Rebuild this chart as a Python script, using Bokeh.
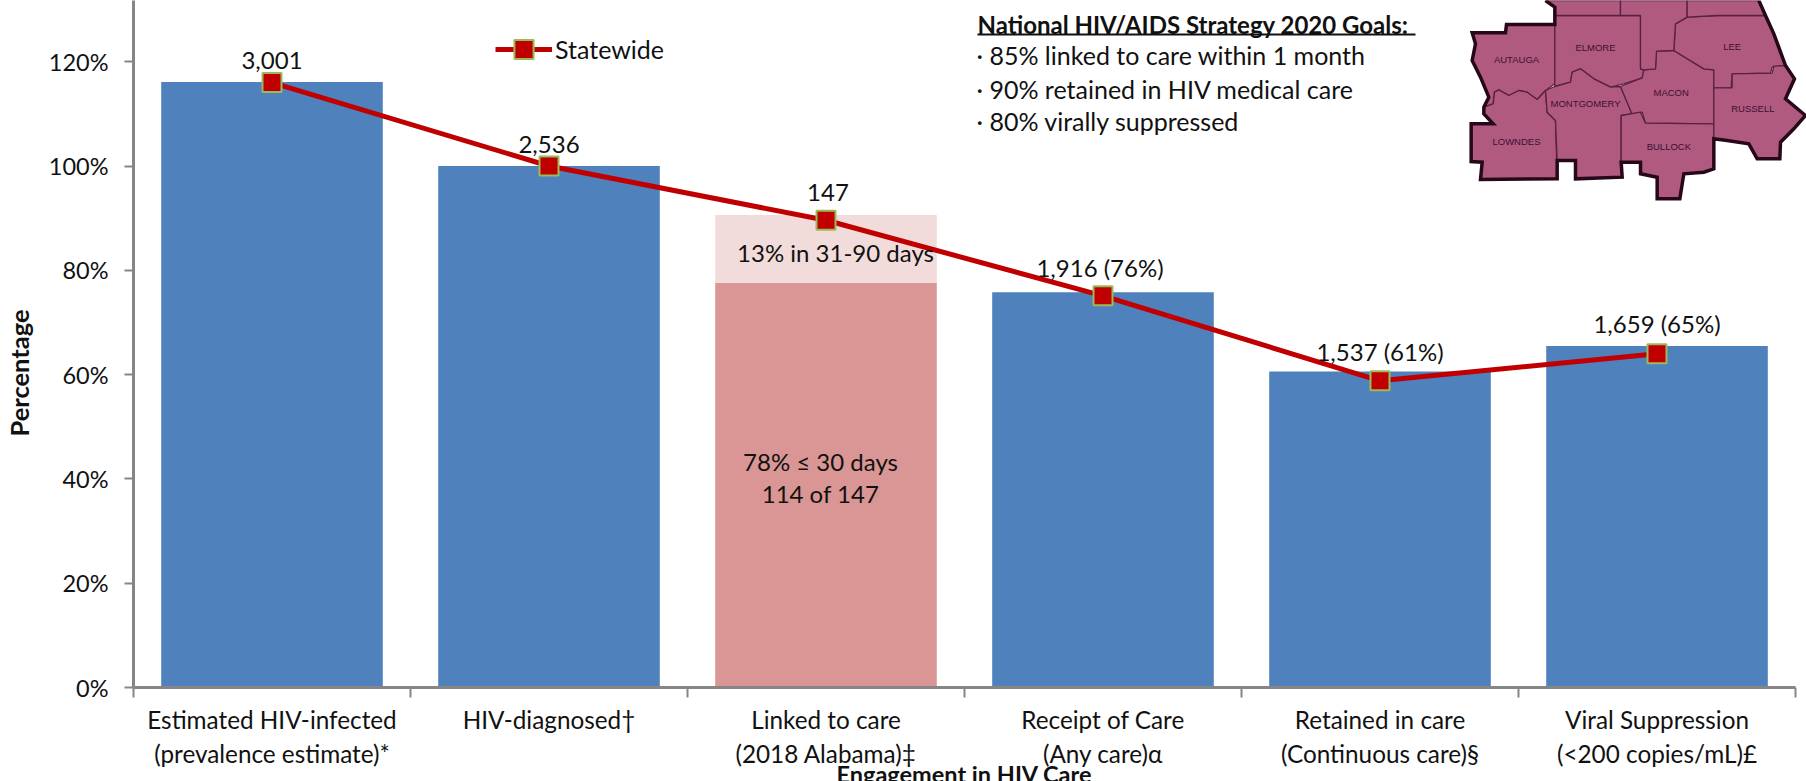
from bokeh.plotting import figure
from bokeh.models import Range1d, LinearAxis, FixedTicker, Legend, LegendItem, ColumnDataSource, PrintfTickFormatter, Title
from bokeh.core.properties import value
from bokeh.embed import file_html
from bokeh.resources import INLINE

# ---------- data ----------
categories = ["Estimated HIV-infected\n(prevalence estimate)*", "HIV-diagnosed\u2020",
              "Linked to care\n(2018 Alabama)\u2021", "Receipt of Care\n(Any care)\u03b1",
              "Retained in care\n(Continuous care)\u00a7", "Viral Suppression\n(<200 copies/mL)\u00a3"]
bar_values = [116.1, 100.0, None, 75.8, 60.6, 65.5]
linked_30_days = 77.6
linked_90_days = 90.6
line_values = [116.0, 100.0, 89.6, 75.1, 58.8, 64.0]
point_labels = ["3,001", "2,536", "147", "1,916 (76%)", "1,537 (61%)", "1,659 (65%)"]
y_ticks = [0, 20, 40, 60, 80, 100, 120]
goals_title = "National HIV/AIDS Strategy 2020 Goals:"
goals = ["\u00b7 85% linked to care within 1 month",
         "\u00b7 90% retained in HIV medical care",
         "\u00b7 80% virally suppressed"]

# map illustration, traced in crop coordinates (3x, origin at 1420,0)
map_counties = {
    "AUTAUGA": [(155,97),(255,97),(258,72),(403,72),(403,250),(375,270),(350,297),(320,275),(295,270),(265,285),(235,268),(222,275),(218,310),(190,320),(205,290),(180,230),(155,180),(165,130)],
    "LOWNDES": [(222,275),(235,268),(265,285),(295,270),(320,275),(350,297),(375,270),(380,335),(405,360),(410,535),(180,537),(185,485),(152,483),(152,370),(218,370),(190,340),(190,320),(218,310)],
    "ELMORE": [(403,45),(660,45),(660,205),(670,210),(665,232),(610,250),(570,260),(520,235),(480,205),(455,215),(450,245),(403,258)],
    "MONTGOMERY": [(403,258),(450,245),(455,215),(480,205),(520,235),(570,260),(600,258),(635,340),(602,345),(602,485),(605,530),(465,535),(465,480),(410,480),(405,360),(380,335),(375,270)],
    "MACON": [(600,258),(665,232),(670,208),(705,205),(708,152),(760,150),(850,205),(880,208),(880,370),(675,368),(665,335),(635,342)],
    "BULLOCK": [(602,345),(660,335),(675,368),(880,370),(880,505),(850,515),(790,520),(778,595),(710,595),(710,530),(660,520),(660,485),(602,485)],
    "LEE": [(765,70),(800,50),(890,45),(1035,45),(1060,100),(1095,195),(1055,200),(1050,218),(935,220),(932,262),(880,262),(880,208),(850,205),(760,150)],
    "RUSSELL": [(880,262),(935,262),(935,220),(1055,218),(1060,197),(1095,195),(1122,235),(1095,295),(1155,345),(1120,385),(1080,425),(1078,475),(1010,475),(985,430),(920,420),(880,415)],
    "": [(375,0),(403,20),(403,45),(600,45),(600,0)],
    " ": [(600,0),(800,0),(800,50),(765,70),(760,150),(708,152),(705,205),(670,208),(660,205),(660,45),(600,45)],
    "  ": [(800,0),(1015,0),(1035,45),(890,45),(800,50)],
}
map_outline = [(375,0),(403,20),(403,72),(258,72),(255,97),(155,97),(165,130),(155,180),(180,230),(205,290),(190,320),(190,340),(218,370),(152,370),(152,483),(185,485),(180,537),(410,535),(410,480),(465,480),(465,535),(605,530),(602,485),(660,485),(660,520),(710,530),(710,595),(778,595),(790,520),(850,515),(880,505),(880,415),(920,420),(985,430),(1010,475),(1078,475),(1080,425),(1120,385),(1155,345),(1095,295),(1122,235),(1095,195),(1060,100),(1035,45),(1015,0)]
map_labels = {"AUTAUGA":(288,178),"ELMORE":(525,140),"LEE":(935,137),"MACON":(752,275),"MONTGOMERY":(495,310),"RUSSELL":(997,325),"LOWNDES":(288,422),"BULLOCK":(745,438)}

# ---------- layout ----------
FONT = "Lato"
FS = "24px"
LEFT, TOP_H, FW = 133, 687, 1673
SHIFT = 11   # the left panel is this much wider than LEFT; the page is moved back by it
CAT_W = 277.0

p = figure(width=1806 + SHIFT, height=781, output_backend="svg", toolbar_location=None,
           x_range=Range1d(0, FW / CAT_W), y_range=Range1d(0, TOP_H / 5.215),
           frame_width=FW, frame_height=TOP_H,
           min_border_left=LEFT + SHIFT, min_border_right=0, min_border_top=0, min_border_bottom=94,
           x_axis_type=None, outline_line_color=None, margin=(0, 0, 0, -SHIFT),
           background_fill_color="white", border_fill_color="white")
p.grid.visible = False
p.extra_x_ranges = {"px": Range1d(LEFT, LEFT + FW)}
p.extra_y_ranges = {"px": Range1d(TOP_H, 0)}

GRAY = "#868686"
centers = [i + 0.5 for i in range(len(categories))]
xaxis = LinearAxis(
    ticker=FixedTicker(ticks=centers, minor_ticks=list(range(len(categories) + 1))),
    major_label_overrides={c: l for c, l in zip(centers, categories)},
    bounds=(0, len(categories)),
    major_tick_in=0, major_tick_out=0, minor_tick_in=0, minor_tick_out=10,
    minor_tick_line_color=GRAY, minor_tick_line_width=2,
    axis_line_color=GRAY, axis_line_width=3,
    major_label_text_font=FONT, major_label_text_font_size="24.3px", major_label_text_color="#111111",
    major_label_standoff=7, major_label_text_line_height=1.2)
p.add_layout(xaxis, "below")

ya = p.yaxis[0]
ya.ticker = FixedTicker(ticks=y_ticks)
ya.formatter = PrintfTickFormatter(format="%d%%")
ya.major_tick_in = 0
ya.major_tick_out = 9
ya.minor_tick_out = 0
ya.major_tick_line_color = GRAY
ya.major_tick_line_width = 2
ya.axis_line_color = GRAY
ya.axis_line_width = 3
ya.major_label_text_font = FONT
ya.major_label_text_font_size = "23.5px"
ya.major_label_text_color = "#111111"
ya.major_label_standoff = 16

# bars
bx = [c for c, v in zip(centers, bar_values) if v is not None]
bv = [v for v in bar_values if v is not None]
p.vbar(x=bx, top=bv, width=0.8, color="#4F81BD", line_color=None)
p.vbar(x=[centers[2]], top=[linked_30_days], width=0.8, color="#D99694", line_color=None)
p.vbar(x=[centers[2]], bottom=[linked_30_days], top=[linked_90_days], width=0.8, color="#F2DCDB", line_color=None)

# line
line_r = p.line(centers, line_values, line_color="#C00000", line_width=5)
mark_r = p.scatter(centers, line_values, marker="square", size=19, fill_color="#C00000",
                   line_color="#9BBB59", line_width=2)

src = ColumnDataSource(dict(x=centers, y=line_values, t=point_labels,
                            xoff=[0, 0, 2, -3, 0, 0], off=[-22, -22, -28, -28, -29, -30]))
p.text("x", "y", text="t", x_offset="xoff", y_offset="off", source=src, text_align="center", text_baseline="middle",
       text_font=value(FONT), text_font_size=value(FS), text_color="#111111")

def ptext(x, y, s, size=FS, align="left", style="normal", color="#111111", font=FONT):
    p.text([x], [y], text=[s], x_range_name="px", y_range_name="px", text_align=align, text_baseline="middle",
           text_font=value(font), text_font_size=value(size), text_font_style=style, text_color=color)

ptext(835, 252, "13% in 31-90 days", align="center")
ptext(820, 461, "78% \u2264 30 days", align="center")
ptext(820, 493, "114 of 147", align="center")

# goals
ptext(977, 24, goals_title, size="24px", style="bold")
p.segment([977], [34], [1415], [34], x_range_name="px", y_range_name="px", line_color="#111111", line_width=2)
for gy, g in zip([54, 88, 120], goals):
    ptext(976, gy, g, size="25px")

# map
def mx(a): return 1420 + a / 3.0
def my(a): return a / 3.0
p.patches([[mx(a) for a, b in pts] for pts in map_counties.values()],
          [[my(b) for a, b in pts] for pts in map_counties.values()],
          x_range_name="px", y_range_name="px", fill_color="#B05A80", line_color="#5A2040", line_width=1.3)
p.line([mx(a) for a, b in map_outline], [my(b) for a, b in map_outline], x_range_name="px", y_range_name="px",
       line_color="#26081A", line_width=3.5, line_join="miter")
for name, (a, b) in map_labels.items():
    ptext(mx(a), my(b), name, size="9.5px", align="center", color="#3E1030", font="Liberation Sans")

# axis titles
p.add_layout(Title(text="Percentage", align="left", offset=TOP_H - 372 - 64, standoff=24, text_font=FONT,
                   text_font_style="bold", text_font_size="25.5px", text_color="#111111"), "left")
p.add_layout(Title(text="Engagement in HIV Care", align="left", offset=963 - LEFT - 127, standoff=-33, text_font=FONT,
                   text_font_style="bold", text_font_size="23.5px", text_color="#111111"), "below")

# legend
leg = Legend(items=[LegendItem(label="Statewide", renderers=[line_r, mark_r])], location=(362, TOP_H - 73),
             padding=0, margin=0, spacing=0, glyph_width=57, glyph_height=48, label_standoff=3,
             border_line_color=None, background_fill_alpha=0, label_text_font=FONT, label_text_font_size="25px",
             label_text_color="#111111", label_height=48)
p.add_layout(leg)

open("out.html", "w").write(file_html(p, INLINE))
